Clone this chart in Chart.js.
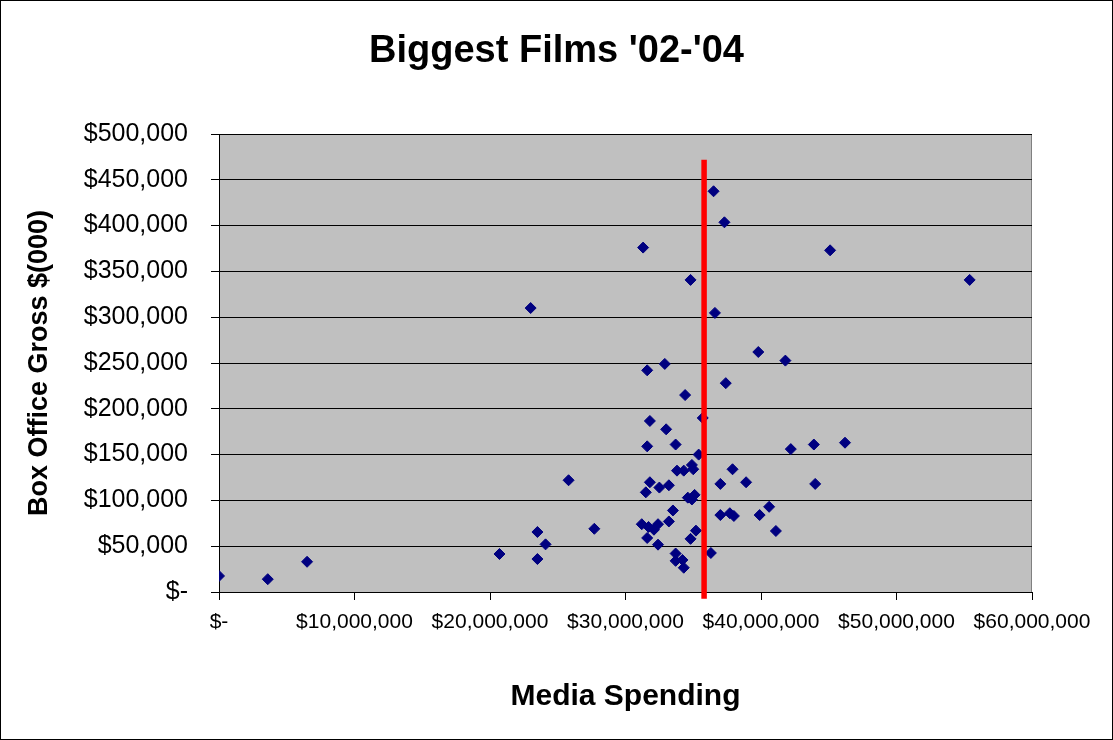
<!DOCTYPE html>
<html lang="en">
<head>
  <meta charset="UTF-8">
  <title>Biggest Films '02-'04</title>
  <script src="https://cdn.jsdelivr.net/npm/chart.js"></script>
  <style>
    * { margin: 0; padding: 0; box-sizing: border-box; }
    body { background: #fff; width: 1113px; height: 740px; overflow: hidden; }
    #wrap { position: relative; width: 1113px; height: 740px; }
  </style>
</head>
<body>
  <div id="wrap"><canvas id="filmsChart"></canvas></div>

  <script>
    // Media spending ($) per film
    const mediaSpending = [
      0, 3600000, 6500000, 20700000, 23000000, 23500000, 23500000, 24100000, 25800000, 27700000,
      31300000, 36500000, 37300000, 45100000, 34800000, 36600000, 39800000, 41800000, 31600000, 32900000,
      37400000, 34400000, 35700000, 31800000, 33000000, 31600000, 33700000, 35400000, 42200000, 43900000,
      46200000, 37900000, 33800000, 34300000, 34900000, 35000000, 31800000, 32500000, 33200000, 31500000,
      37000000, 38900000, 44000000, 34600000, 34900000, 35100000, 33500000, 37000000, 37700000, 38000000,
      39900000, 40600000, 31200000, 31700000, 32100000, 32400000, 33200000, 31600000, 32400000, 35200000,
      34800000, 41100000, 36300000, 33700000, 34200000, 33700000, 34300000, 55400000
    ];
    // Box office gross, $(000)
    const boxOffice = [
      17500, 14000, 33000, 41500, 310000, 65500, 36000, 52000, 122000, 69000,
      376000, 437500, 403600, 373000, 340700, 304700, 262000, 252600, 242000, 249000,
      228000, 215000, 190000, 186700, 177600, 159000, 161000, 150000, 156000, 161000,
      163000, 134000, 132500, 132500, 138700, 134000, 119800, 114000, 116500, 108800,
      118000, 119800, 118000, 103000, 101000, 106000, 89000, 84000, 86000, 83000,
      84000, 93000, 74000, 71000, 68000, 74000, 77000, 59000, 51700, 67000,
      58000, 66600, 42600, 42000, 35000, 34000, 26500, 340700
    ];
    // red marker line
    const markerX = [35800000, 35800000];
    const markerY = [-7500, 472000];

    const xTicks = [0, 10000000, 20000000, 30000000, 40000000, 50000000, 60000000];
    const yTicks = [0, 50000, 100000, 150000, 200000, 250000, 300000, 350000, 400000, 450000, 500000];

    function money(v) {
      return v === 0 ? '$-' : '$' + Number(v).toLocaleString('en-US');
    }

    const FONT = "'Liberation Sans', Arial, sans-serif";

    const plotBackground = {
      id: 'plotBackground',
      beforeDraw(chart) {
        const { ctx, chartArea: a } = chart;
        ctx.save();
        ctx.fillStyle = '#ffffff';
        ctx.fillRect(0, 0, chart.width, chart.height);
        ctx.fillStyle = '#c0c0c0';
        ctx.fillRect(a.left, a.top, a.right - a.left, a.bottom - a.top);
        ctx.strokeStyle = '#808080';
        ctx.lineWidth = 1;
        ctx.strokeRect(a.left + 0.5, a.top + 0.5, a.right - a.left - 1, a.bottom - a.top);
        ctx.restore();
      },
      afterDraw(chart) {
        const { ctx } = chart;
        ctx.save();
        ctx.strokeStyle = '#000000';
        ctx.lineWidth = 1;
        ctx.strokeRect(0.5, 0.5, chart.width - 1, chart.height - 1);
        ctx.restore();
      }
    };

    const ctx = document.getElementById('filmsChart').getContext('2d');
    new Chart(ctx, {
      type: 'scatter',
      data: {
        datasets: [
          {
            label: 'Marker',
            data: markerX.map((x, i) => ({ x: x, y: markerY[i] })),
            showLine: true,
            borderColor: '#ff0000',
            borderWidth: 5.5,
            pointRadius: 0,
            clip: false,
            order: 0
          },
          {
            label: 'Films',
            data: mediaSpending.map((x, i) => ({ x: x, y: boxOffice[i] })),
            pointStyle: 'rectRot',
            pointRadius: 5.5,
            pointBackgroundColor: '#000080',
            pointBorderColor: '#000080',
            pointBorderWidth: 1,
            order: 1
          }
        ]
      },
      options: {
        responsive: true,
        maintainAspectRatio: false,
        animation: false,
        layout: { padding: 0 },
        plugins: {
          legend: { display: false },
          tooltip: { enabled: false },
          title: {
            display: true,
            text: "Biggest Films '02-'04",
            color: '#000',
            font: { family: FONT, size: 38, weight: 'bold' },
            padding: { top: 29, bottom: 59.4 }
          }
        },
        scales: {
          x: {
            type: 'linear',
            min: 0,
            max: 60000000,
            afterFit(scale) { scale.height = 148; },
            afterBuildTicks(scale) { scale.ticks = xTicks.map(v => ({ value: v })); },
            ticks: {
              color: '#000',
              font: { family: FONT, size: 21 },
              padding: 10,
              maxRotation: 0,
              autoSkip: false,
              callback: money
            },
            grid: { drawOnChartArea: false, drawTicks: true, tickLength: 8, color: '#000' },
            border: { display: true, color: '#000', width: 1 },
            title: {
              display: true,
              text: 'Media Spending',
              color: '#000',
              font: { family: FONT, size: 30, weight: 'bold' },
              padding: { top: 0, bottom: 25 }
            }
          },
          y: {
            type: 'linear',
            min: 0,
            max: 500000,
            afterFit(scale) { scale.width = 219; },
            afterBuildTicks(scale) { scale.ticks = yTicks.map(v => ({ value: v })); },
            ticks: {
              color: '#000',
              font: { family: FONT, size: 25 },
              padding: 23,
              autoSkip: false,
              callback: money
            },
            grid: { drawOnChartArea: true, drawTicks: true, tickLength: 8, color: '#000', lineWidth: 1 },
            border: { display: true, color: '#000', width: 1 },
            title: {
              display: true,
              text: 'Box Office Gross $(000)',
              color: '#000',
              font: { family: FONT, size: 27, weight: 'bold' },
              padding: { top: 23, bottom: 0 }
            }
          },
          // empty right-hand spacer so the plot ends where the reference does
          spacer: {
            type: 'linear',
            position: 'right',
            display: true,
            afterFit(scale) { scale.width = 81; },
            ticks: { display: false },
            grid: { display: false },
            border: { display: false }
          }
        }
      },
      plugins: [plotBackground]
    });
  </script>
</body>
</html>
